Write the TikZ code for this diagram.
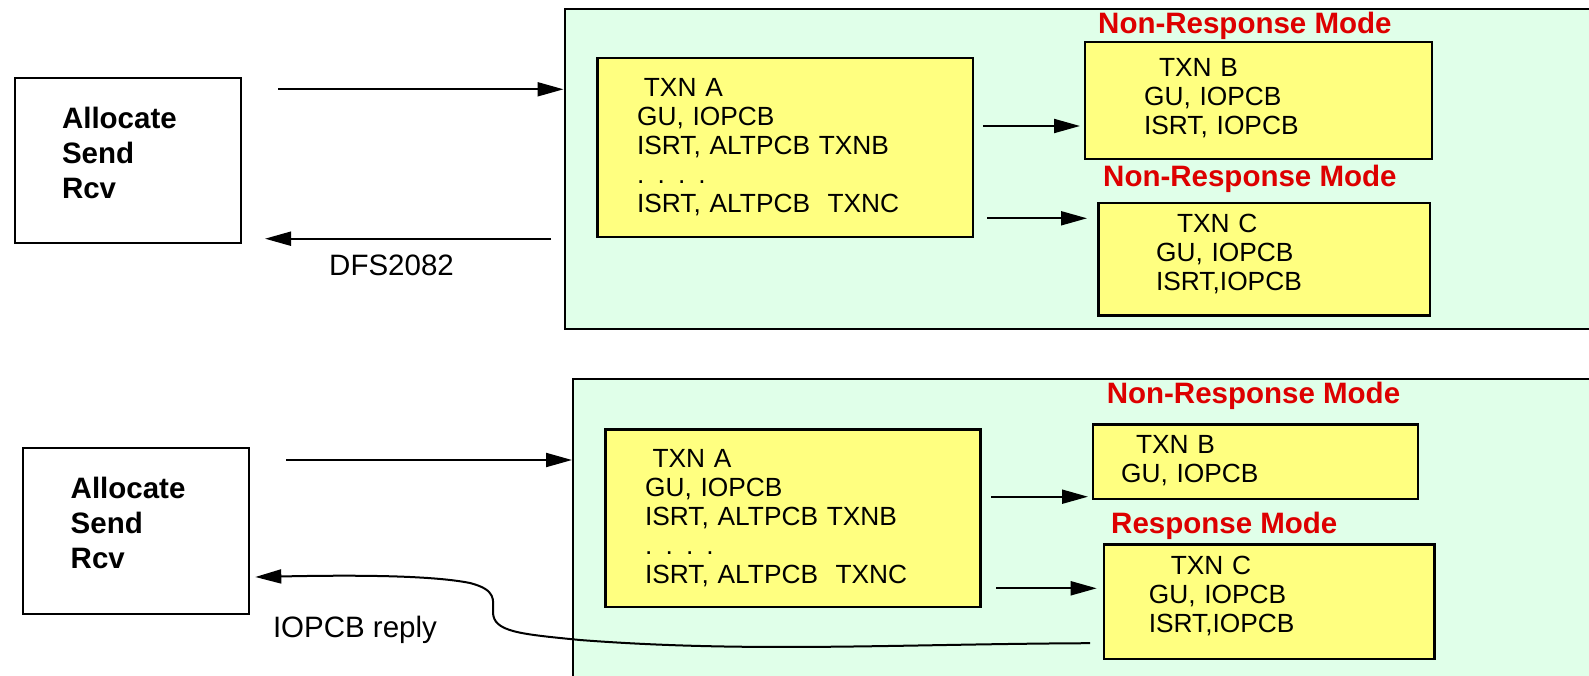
\documentclass[tikz,border=0pt]{standalone}
\usepackage{fontspec}
\setmainfont{Liberation Sans}
\usetikzlibrary{positioning, arrows.meta, calc}
\definecolor{cMint}{HTML}{E0FFE9}
\definecolor{cTxn} {HTML}{FFFF80}
\definecolor{cMode}{HTML}{DD0000}

\tikzset{
  region/.style={draw, fill=cMint, line width=2pt, anchor=north west, inner sep=0pt},
  client/.style n args={4}{draw, line width=2pt, anchor=north west, align=left,
         inner ysep=0pt, font=\bfseries\fontsize{29.5}{35}\selectfont,
         text width=#1, inner xsep=#2, text height=#3, text depth=#4},
  txn/.style n args={4}{draw, fill=cTxn, line width=2.2pt, anchor=north west, align=left,
         inner ysep=0pt, font=\fontsize{26.3}{29}\selectfont,
         text width=#1, inner xsep=#2, text height=#3, text depth=#4},
  mode/.style={anchor=base west, inner sep=0pt, text=cMode,
         font=\bfseries\fontsize{29.5}{35}\selectfont},
  note/.style={anchor=base west, inner sep=0pt, font=\fontsize{29.5}{35}\selectfont},
  flow/.style={-{Triangle[length=26pt, width=14pt]}, line width=2pt},
}

\begin{document}
\begin{tikzpicture}[x=1pt, y=-1pt]
  \useasboundingbox (0,0) rectangle (1589,676);

  % --- upper case: all non-response mode ---
  \node[region, minimum width=1100pt, minimum height=320pt] (region1) at (563.5,8) {};
  \node[client={131.8pt}{47.2pt}{51pt}{114pt}] (alloc1) at (13.8,77)
       {Allocate\\Send\\Rcv};
  \node[txn={296.4pt}{39.6pt}{38.4pt}{140.3pt}] (txnA1) at (596.4,57.3)
       {\hspace*{6.8pt}TXN A\\GU, IOPCB\\ISRT, ALTPCB TXNB\\. . . .\\ISRT, ALTPCB\ \ TXNC};
  \node[txn={229pt}{59pt}{34.3pt}{82.7pt}] (txnB1) at (1084,40.7)
       {\hspace*{15pt}TXN B\\GU, IOPCB\\ISRT, IOPCB};
  \node[txn={216.1pt}{57.6pt}{29.7pt}{82.6pt}] (txnC1) at (1097.4,202)
       {\hspace*{21pt}TXN C\\GU, IOPCB\\ISRT,IOPCB};
  \node[mode] (modeB1) at (1098,33.3) {Non-Response Mode};
  \node[mode] (modeC1) at (1103,186.7) {Non-Response Mode};
  \node[note] (dfs) at (329,275.7) {DFS2082};

  \draw[flow] ($(alloc1.north east)+(36pt,-12.3pt)$) coordinate (in1) -- (in1 -| region1.west);
  \coordinate (back1) at ($(alloc1.south east)+(23pt,5.3pt)$);
  \draw[flow] ($(back1 -| region1.west)+(-12.5pt,0pt)$) -- (back1);
  \draw[flow] ($(txnA1.north east)+(8.7pt,-68.7pt)$) coordinate (ab1)
       -- ($(ab1 -| txnB1.west)+(-4pt,0pt)$);
  \draw[flow] ($(txnA1.north east)+(13pt,-161pt)$) coordinate (ac1)
       -- ($(ac1 -| txnC1.west)+(-10.4pt,0pt)$);

  % --- lower case: TXN C in response mode ---
  \node[region, minimum width=1100pt, minimum height=340pt] (region2) at (572,378.3) {};
  \node[client={130.6pt}{47.7pt}{50pt}{115.4pt}] (alloc2) at (22,447.3)
       {Allocate\\Send\\Rcv};
  \node[txn={295.7pt}{39.7pt}{37.7pt}{140pt}] (txnA2) at (604.3,428.3)
       {\hspace*{7.4pt}TXN A\\GU, IOPCB\\ISRT, ALTPCB TXNB\\. . . .\\ISRT, ALTPCB\ \ TXNC};
  \node[txn={268.8pt}{28pt}{29.4pt}{45pt}] (txnB2) at (1092,423.3)
       {\hspace*{15pt}TXN B\\GU, IOPCB};
  \node[txn={241pt}{44.7pt}{30pt}{84.4pt}] (txnC2) at (1103,543.3)
       {\hspace*{22pt}TXN C\\GU, IOPCB\\ISRT,IOPCB};
  \node[mode] (modeB2) at (1106.6,403.3) {Non-Response Mode};
  \node[mode] (modeC2) at (1111,533.3) {Response Mode};
  \node[note] (reply) at (272.8,637.3) {IOPCB reply};

  \draw[flow] ($(alloc2.north east)+(36pt,-12.7pt)$) coordinate (in2) -- (in2 -| region2.west);
  \draw[flow] ($(txnA2.north east)+(9.6pt,-68.4pt)$) coordinate (ab2)
       -- ($(ab2 -| txnB2.west)+(-4pt,0pt)$);
  \draw[flow] ($(txnA2.north east)+(14.6pt,-160pt)$) coordinate (ac2)
       -- ($(ac2 -| txnC2.west)+(-6.3pt,0pt)$);
  \draw[flow] ($(txnC2.south west)+(-13pt,16.7pt)$)
       .. controls (900,644) and (750,653) .. (580,640)
       .. controls (520,634) and (493,632) .. (493,612)
       .. controls (493,600) and (497,590) .. (470,583)
       .. controls (430,575) and (350,575) .. ($(alloc2.south east)+(5.3pt,37.7pt)$);
\end{tikzpicture}
\end{document}
